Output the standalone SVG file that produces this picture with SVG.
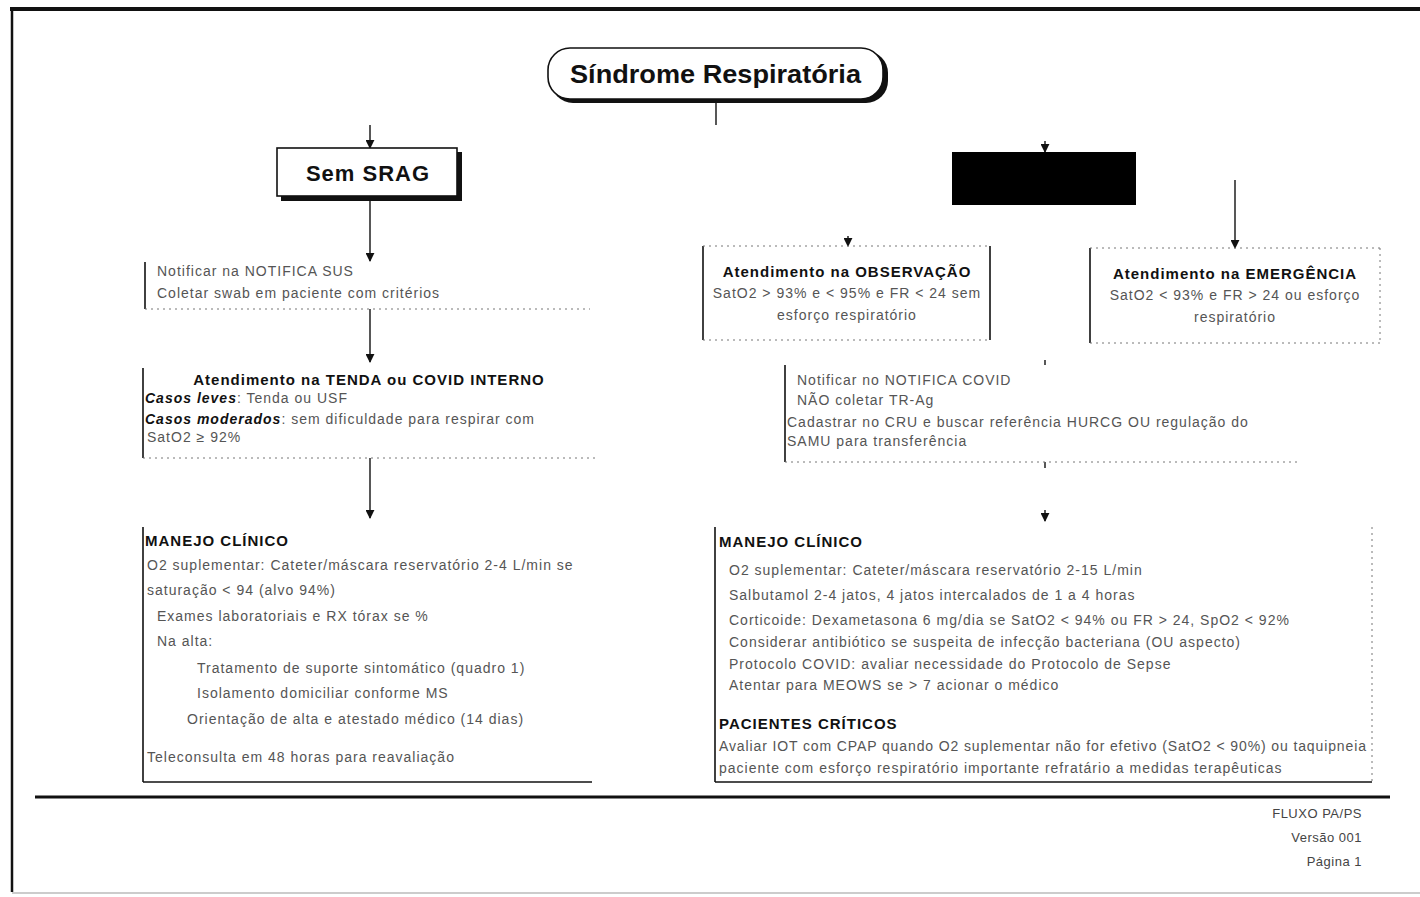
<svg xmlns="http://www.w3.org/2000/svg" width="1420" height="897" viewBox="0 0 1420 897">
<style>
.b{font-family:"Liberation Sans",Arial,sans-serif;font-size:14px;letter-spacing:1px;fill:#555}
.h{font-family:"Liberation Sans",Arial,sans-serif;font-weight:bold;font-size:15px;letter-spacing:1px;fill:#111}
.hm{font-family:"Liberation Sans",Arial,sans-serif;font-weight:bold;font-size:15px;letter-spacing:1px;fill:#111}
.bi{font-family:"Liberation Sans",Arial,sans-serif;font-weight:bold;font-style:italic;font-size:14px;letter-spacing:1px;fill:#111}
.solid{stroke:#111;stroke-width:1.6;fill:none}
.dot{stroke:#777;stroke-width:1;stroke-dasharray:2 4;fill:none}
.conn{stroke:#111;stroke-width:1.4;fill:none}
.foot{font-family:"Liberation Sans",Arial,sans-serif;font-size:13px;letter-spacing:0.5px;fill:#444}
</style>
<defs>
<marker id="ah" viewBox="0 0 10 10" refX="9" refY="5" markerWidth="9" markerHeight="9" orient="auto" markerUnits="userSpaceOnUse">
<path d="M0,0 L10,5 L0,10 z" fill="#111"/>
</marker>
</defs>
<rect width="1420" height="897" fill="#fff"/>
<g id="frame">
<line x1="10" y1="9" x2="1420" y2="9" stroke="#111" stroke-width="4"/>
<line x1="12" y1="8" x2="12" y2="892" stroke="#111" stroke-width="2.5"/>
<line x1="12" y1="893" x2="1420" y2="893" stroke="#999" stroke-width="1"/>
<line x1="35" y1="797" x2="1390" y2="797" stroke="#111" stroke-width="3"/>
</g>
<g id="connectors">
<line class="conn" x1="716" y1="102" x2="716" y2="125"/>
<line class="conn" x1="370" y1="125" x2="370" y2="148" marker-end="url(#ah)"/>
<line class="conn" x1="370" y1="201" x2="370" y2="261" marker-end="url(#ah)"/>
<line class="conn" x1="370" y1="309" x2="370" y2="362" marker-end="url(#ah)"/>
<line class="conn" x1="370" y1="458" x2="370" y2="518" marker-end="url(#ah)"/>
<line class="conn" x1="1045" y1="141" x2="1045" y2="152" marker-end="url(#ah)"/>
<line class="conn" x1="848" y1="236" x2="848" y2="246" marker-end="url(#ah)"/>
<line class="conn" x1="1235" y1="180" x2="1235" y2="248" marker-end="url(#ah)"/>
<line class="conn" x1="1045" y1="360" x2="1045" y2="365"/>
<line class="conn" x1="1045" y1="462" x2="1045" y2="468"/>
<line class="conn" x1="1045" y1="510" x2="1045" y2="521" marker-end="url(#ah)"/>
</g>
<g id="title">
<rect x="551" y="51" width="337" height="52" rx="22" fill="#111"/>
<rect x="548" y="48" width="335" height="51" rx="22" fill="#fff" stroke="#111" stroke-width="1.6"/>
<text x="570" y="83" textLength="291" lengthAdjust="spacingAndGlyphs" font-family="Liberation Sans,Arial,sans-serif" font-weight="bold" font-size="25" fill="#111">Síndrome Respiratória</text>
</g>
<g id="sem-srag">
<rect x="281" y="152" width="181" height="49" fill="#111"/>
<rect x="277" y="148" width="180" height="48" fill="#fff" stroke="#111" stroke-width="1.6"/>
<text x="368" y="181" text-anchor="middle" font-family="Liberation Sans,Arial,sans-serif" font-weight="bold" font-size="22" letter-spacing="1" fill="#111">Sem SRAG</text>
</g>
<g id="com-srag">
<rect x="952" y="152" width="184" height="53" fill="#000"/>
<text x="1044" y="184" text-anchor="middle" font-family="Liberation Sans,Arial,sans-serif" font-weight="bold" font-size="18" fill="#000">Com SRAG</text>
</g>
<g id="notificar-left">
<line class="solid" x1="145" y1="262" x2="145" y2="309"/>
<line class="dot" x1="145" y1="309" x2="590" y2="309"/>
<text class="b" x="157" y="276">Notificar na NOTIFICA SUS</text>
<text class="b" x="157" y="298">Coletar swab em paciente com critérios</text>
</g>
<g id="tenda">
<line class="solid" x1="143" y1="368" x2="143" y2="458"/>
<line class="dot" x1="143" y1="458" x2="595" y2="458"/>
<text class="h" x="369" y="385" text-anchor="middle">Atendimento na TENDA ou COVID INTERNO</text>
<text x="145" y="403"><tspan class="bi">Casos leves</tspan><tspan class="b">: Tenda ou USF</tspan></text>
<text x="145" y="424"><tspan class="bi">Casos moderados</tspan><tspan class="b">: sem dificuldade para respirar com</tspan></text>
<text class="b" x="147" y="442">SatO2 ≥ 92%</text>
</g>
<g id="manejo-left">
<line class="solid" x1="143" y1="527" x2="143" y2="782"/>
<line class="solid" x1="143" y1="782" x2="592" y2="782"/>
<text class="hm" x="145" y="546">MANEJO CLÍNICO</text>
<text class="b" x="147" y="570">O2 suplementar: Cateter/máscara reservatório 2-4 L/min se</text>
<text class="b" x="147" y="595">saturação &lt; 94 (alvo 94%)</text>
<text class="b" x="157" y="621">Exames laboratoriais e RX tórax se %</text>
<text class="b" x="157" y="646">Na alta:</text>
<text class="b" x="197" y="673">Tratamento de suporte sintomático (quadro 1)</text>
<text class="b" x="197" y="698">Isolamento domiciliar conforme MS</text>
<text class="b" x="187" y="724">Orientação de alta e atestado médico (14 dias)</text>
<text class="b" x="147" y="762">Teleconsulta em 48 horas para reavaliação</text>
</g>
<g id="observacao">
<line class="solid" x1="703" y1="246" x2="703" y2="340"/>
<line class="solid" x1="990" y1="246" x2="990" y2="340"/>
<line class="dot" x1="703" y1="246" x2="990" y2="246"/>
<line class="dot" x1="703" y1="340" x2="990" y2="340"/>
<text class="h" x="847" y="277" text-anchor="middle" font-size="16">Atendimento  na OBSERVAÇÃO</text>
<text class="b" x="847" y="298" text-anchor="middle">SatO2 &gt; 93% e &lt; 95% e FR &lt; 24 sem</text>
<text class="b" x="847" y="320" text-anchor="middle">esforço respiratório</text>
</g>
<g id="emergencia">
<line class="solid" x1="1090" y1="248" x2="1090" y2="343"/>
<line class="dot" x1="1380" y1="248" x2="1380" y2="343"/>
<line class="dot" x1="1090" y1="248" x2="1380" y2="248"/>
<line class="dot" x1="1090" y1="343" x2="1380" y2="343"/>
<text class="h" x="1235" y="279" text-anchor="middle" font-size="16">Atendimento na EMERGÊNCIA</text>
<text class="b" x="1235" y="300" text-anchor="middle">SatO2 &lt; 93% e FR &gt; 24 ou esforço</text>
<text class="b" x="1235" y="322" text-anchor="middle">respiratório</text>
</g>
<g id="notificar-right">
<line class="solid" x1="785" y1="365" x2="785" y2="462"/>
<line class="dot" x1="785" y1="462" x2="1300" y2="462"/>
<text class="b" x="797" y="385">Notificar no NOTIFICA COVID</text>
<text class="b" x="797" y="405">NÃO coletar TR-Ag</text>
<text class="b" x="787" y="427">Cadastrar no CRU e buscar referência HURCG OU regulação do</text>
<text class="b" x="787" y="446">SAMU para transferência</text>
</g>
<g id="manejo-right">
<line class="solid" x1="715" y1="527" x2="715" y2="782"/>
<line class="dot" x1="1372" y1="527" x2="1372" y2="782"/>
<line class="solid" x1="715" y1="782" x2="1372" y2="782"/>
<text class="hm" x="719" y="547">MANEJO CLÍNICO</text>
<text class="b" x="729" y="575">O2 suplementar: Cateter/máscara reservatório 2-15 L/min</text>
<text class="b" x="729" y="600">Salbutamol 2-4 jatos, 4 jatos intercalados de 1 a 4 horas</text>
<text class="b" x="729" y="625">Corticoide: Dexametasona 6 mg/dia se SatO2 &lt; 94% ou FR &gt; 24, SpO2 &lt; 92%</text>
<text class="b" x="729" y="647">Considerar antibiótico se suspeita de infecção bacteriana (OU aspecto)</text>
<text class="b" x="729" y="669">Protocolo COVID: avaliar necessidade do Protocolo de Sepse</text>
<text class="b" x="729" y="690">Atentar para MEOWS se &gt; 7 acionar o médico</text>
<text class="hm" x="719" y="729">PACIENTES CRÍTICOS</text>
<text class="b" x="719" y="751" textLength="648" lengthAdjust="spacing">Avaliar IOT com CPAP quando O2 suplementar não for efetivo (SatO2 &lt; 90%) ou taquipneia</text>
<text class="b" x="719" y="773">paciente com esforço respiratório importante refratário a medidas terapêuticas</text>
</g>
<g id="footer">
<text class="foot" x="1362" y="818" text-anchor="end">FLUXO PA/PS</text>
<text class="foot" x="1362" y="842" text-anchor="end">Versão 001</text>
<text class="foot" x="1362" y="866" text-anchor="end">Página 1</text>
</g>
</svg>
